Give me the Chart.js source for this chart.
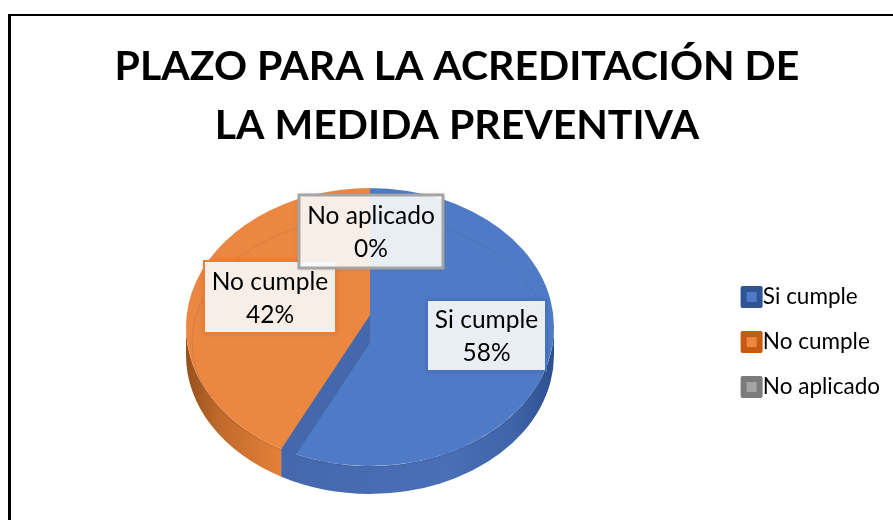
<!DOCTYPE html>
<html>
<head>
<meta charset="utf-8">
<style>
  html, body { margin: 0; padding: 0; background: #fff; overflow: hidden; }
  #page { position: relative; width: 893px; height: 520px; overflow: hidden; }
  #frame { position: absolute; left: 8px; top: 14px; width: 900px; height: 520px; border-left: 3px solid #000; border-top: 2px solid #000; }
  canvas { position: absolute; left: 0; top: 0; }
</style>
<script src="https://cdn.jsdelivr.net/npm/chart.js@4"></script>
</head>
<body>
<div id="page">
  <div id="frame"></div>
  <canvas id="pieChart" width="893" height="520"></canvas>
</div>
<script>
const titleLines = ['PLAZO PARA LA ACREDITACIÓN DE', 'LA MEDIDA PREVENTIVA'];
const categories = ['Si cumple', 'No cumple', 'No aplicado'];
const values = [58, 42, 0];

const faceColors = ['#4f7bc6', '#ec8742', '#a5a5a5'];
const rimColors = ['#2f5597', '#c55a11', '#7b7b7b'];
const labelBorders = ['#4472c4', '#ed7d31', '#a5a5a5'];
// left, top, width, height of each data label box
const labelBoxes = [[427, 300, 119, 71], [204, 261, 132, 72], [299, 195, 144, 73]];

const PIE = { cx: 370, cy: 327, rx: 184, ry: 139, depth: 28 };
const FONT = 'Lato, Carlito, "Open Sans", sans-serif';

const pie3dPlugin = {
    id: 'pie3d',
    beforeDatasetsDraw(chart) {
        const ctx = chart.ctx;
        const arcs = chart.getDatasetMeta(0).data;
        const { cx, cy, rx, ry, depth } = PIE;

        // side wall, only the front half of the pie shows it
        const wallFills = [
            [[0, '#4568ac'], [0.6, '#496fb7'], [0.85, '#3f64a8'], [1, '#2c4f8e']],
            [[0, '#96501c'], [0.35, '#c06a2c'], [1, '#e58139']]
        ];
        const wallRanges = [[279, 555], [186, 282]];
        arcs.forEach((arc, i) => {
            if (!wallFills[i]) return;
            const a0 = Math.max(arc.startAngle, 0);
            const a1 = Math.min(arc.endAngle, Math.PI);
            const grad = ctx.createLinearGradient(wallRanges[i][0], 0, wallRanges[i][1], 0);
            wallFills[i].forEach(s => grad.addColorStop(s[0], s[1]));
            ctx.beginPath();
            ctx.ellipse(cx, cy + depth, rx, ry, 0, a0, a1);
            ctx.ellipse(cx, cy, rx, ry, 0, a1, a0, true);
            ctx.closePath();
            ctx.fillStyle = grad;
            ctx.fill();
        });

        // squash the library's round pie into the tilted ellipse
        ctx.save();
        ctx.translate(cx, cy);
        ctx.scale(1, ry / rx);
        ctx.translate(-arcs[0].x, -arcs[0].y);
    },
    afterDatasetsDraw(chart) {
        const ctx = chart.ctx;
        ctx.restore();
        const arcs = chart.getDatasetMeta(0).data;
        const { cx, cy, rx, ry, depth } = PIE;

        // faint bevel ring
        ctx.beginPath();
        ctx.ellipse(cx, cy + 15, rx - 6, ry - 14, 0, 0, Math.PI * 2);
        ctx.strokeStyle = 'rgba(60,50,60,0.12)';
        ctx.lineWidth = 1;
        ctx.stroke();

        // see-through cut face between the two big slices
        const end = arcs[0].endAngle;
        const ex = cx + rx * Math.cos(end);
        const ey = cy + ry * Math.sin(end);
        ctx.beginPath();
        ctx.moveTo(cx, cy - 12);
        ctx.lineTo(cx, cy + depth - 12);
        ctx.lineTo(ex, ey + depth);
        ctx.lineTo(ex, ey);
        ctx.closePath();
        ctx.fillStyle = '#4568ac';
        ctx.fill();
    },
    afterDraw(chart) {
        const ctx = chart.ctx;
        const total = values.reduce((a, b) => a + b, 0);

        // data labels, the gray one sits on top
        [0, 1, 2].forEach(i => {
            const [x, y, w, h] = labelBoxes[i];
            ctx.save();
            ctx.shadowColor = 'rgba(0,0,0,0.25)';
            ctx.shadowBlur = 4;
            ctx.fillStyle = 'rgba(255,255,255,0.89)';
            ctx.fillRect(x, y, w, h);
            ctx.restore();
            ctx.strokeStyle = labelBorders[i];
            ctx.lineWidth = i === 2 ? 3 : 2;
            ctx.strokeRect(x, y, w, h);
            ctx.fillStyle = '#000';
            ctx.font = '24.5px ' + FONT;
            ctx.textAlign = 'center';
            ctx.textBaseline = 'middle';
            ctx.fillText(categories[i], x + w / 2, y + h / 2 - 15);
            ctx.fillText(Math.round(values[i] / total * 100) + '%', x + w / 2, y + h / 2 + 18);
        });

        // legend swatches: dark rim with a lighter centre
        chart.legend.legendHitBoxes.forEach((box, i) => {
            const x = box.left - 1;
            const y = box.top + box.height / 2 - 11;
            ctx.fillStyle = rimColors[i];
            ctx.beginPath();
            ctx.roundRect(x, y, 22, 22, 2);
            ctx.fill();
            ctx.fillStyle = faceColors[i];
            ctx.fillRect(x + 6, y + 6, 10, 10);
        });
    }
};

new Chart(document.getElementById('pieChart'), {
    type: 'pie',
    data: {
        labels: categories,
        datasets: [{
            data: values,
            backgroundColor: faceColors,
            borderWidth: 0,
            radius: PIE.rx
        }]
    },
    options: {
        responsive: false,
        animation: false,
        layout: { padding: { left: 24, right: 3 } },
        plugins: {
            title: {
                display: true,
                text: titleLines,
                color: '#000',
                font: { family: FONT, size: 41, weight: 'bold', lineHeight: 1.44 },
                padding: { top: 37, bottom: 9 }
            },
            legend: {
                position: 'right',
                fullSize: false,
                labels: {
                    color: '#000',
                    font: { family: FONT, size: 22.5 },
                    boxWidth: 10,
                    boxHeight: 10,
                    padding: 22.5
                }
            },
            tooltip: { enabled: false }
        }
    },
    plugins: [pie3dPlugin]
});
</script>
</body>
</html>
